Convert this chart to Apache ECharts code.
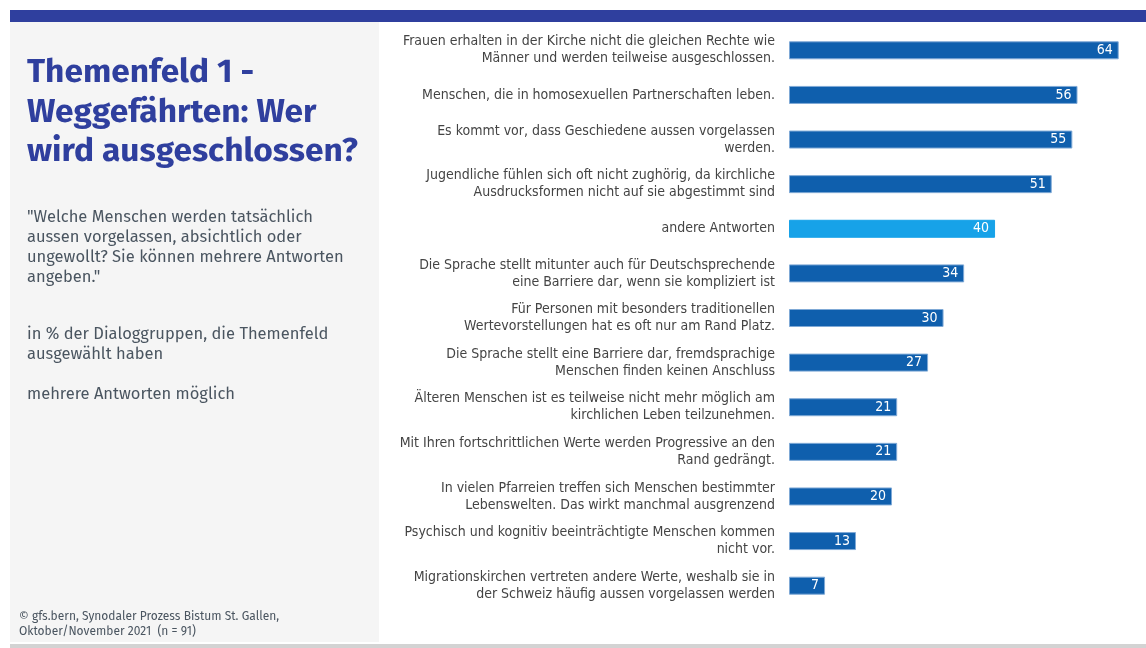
<!DOCTYPE html>
<html>
<head>
<meta charset="utf-8">
<script src="https://cdn.jsdelivr.net/npm/echarts@6/dist/echarts.min.js"></script>
<style>
  html, body { margin: 0; padding: 0; background: #fff; }
  #main { width: 1146px; height: 648px; }
</style>
</head>
<body>
<div id="main"></div>
<script>
const categories = [
  'Frauen erhalten in der Kirche nicht die gleichen Rechte wie\nMänner und werden teilweise ausgeschlossen.',
  'Menschen, die in homosexuellen Partnerschaften leben.',
  'Es kommt vor, dass Geschiedene aussen vorgelassen\nwerden.',
  'Jugendliche fühlen sich oft nicht zughörig, da kirchliche\nAusdrucksformen nicht auf sie abgestimmt sind',
  'andere Antworten',
  'Die Sprache stellt mitunter auch für Deutschsprechende\neine Barriere dar, wenn sie kompliziert ist',
  'Für Personen mit besonders traditionellen\nWertevorstellungen hat es oft nur am Rand Platz.',
  'Die Sprache stellt eine Barriere dar, fremdsprachige\nMenschen finden keinen Anschluss',
  'Älteren Menschen ist es teilweise nicht mehr möglich am\nkirchlichen Leben teilzunehmen.',
  'Mit Ihren fortschrittlichen Werte werden Progressive an den\nRand gedrängt.',
  'In vielen Pfarreien treffen sich Menschen bestimmter\nLebenswelten. Das wirkt manchmal ausgrenzend',
  'Psychisch und kognitiv beeinträchtigte Menschen kommen\nnicht vor.',
  'Migrationskirchen vertreten andere Werte, weshalb sie in\nder Schweiz häufig aussen vorgelassen werden'
];
const values = [64, 56, 55, 51, 40, 34, 30, 27, 21, 21, 20, 13, 7];
const highlighted = ['andere Antworten'];

const titleText = 'Themenfeld 1 -\nWeggefährten: Wer\nwird ausgeschlossen?';
const questionText = '"Welche Menschen werden tatsächlich\naussen vorgelassen, absichtlich oder\nungewollt? Sie können mehrere Antworten\nangeben."';
const baseText = 'in % der Dialoggruppen, die Themenfeld\nausgewählt haben';
const noteText = 'mehrere Antworten möglich';
const sourceText = '© gfs.bern, Synodaler Prozess Bistum St. Gallen,\nOktober/November 2021  (n = 91)';

const narrow = '"Liberation Sans Narrow", "DejaVu Sans Condensed", sans-serif';
const sans = '"Fira Sans", "Open Sans", "Noto Sans", sans-serif';

const chart = echarts.init(document.getElementById('main'), null, { renderer: 'canvas' });

const option = {
  backgroundColor: '#ffffff',
  animation: false,
  graphic: [
    { type: 'rect', shape: { x: 10, y: 10, width: 1136, height: 12 }, style: { fill: '#2f3f9e' }, silent: true },
    { type: 'rect', shape: { x: 10, y: 22, width: 369, height: 620 }, style: { fill: '#f5f5f5' }, silent: true },
    { type: 'rect', shape: { x: 10, y: 644, width: 1136, height: 4 }, style: { fill: '#d3d3d3' }, silent: true },
    {
      type: 'text', left: 27, top: 53,
      style: { text: titleText, fill: '#2f3f9e', font: 'bold 33.5px ' + sans, lineHeight: 39.5 }
    },
    {
      type: 'text', left: 27, top: 207,
      style: { text: questionText, fill: '#4a5560', font: '16.5px ' + sans, lineHeight: 20 }
    },
    {
      type: 'text', left: 27, top: 324,
      style: { text: baseText, fill: '#4a5560', font: '16.5px ' + sans, lineHeight: 20 }
    },
    {
      type: 'text', left: 27, top: 384,
      style: { text: noteText, fill: '#4a5560', font: '16.5px ' + sans, lineHeight: 20 }
    },
    {
      type: 'text', left: 19, top: 609,
      style: { text: sourceText, fill: '#4a5560', font: '12px ' + sans, lineHeight: 15 }
    }
  ],
  grid: { left: 789, top: 28, width: 340, height: 580, containLabel: false },
  xAxis: {
    type: 'value', min: 0, max: 66, show: false
  },
  yAxis: {
    type: 'category',
    data: categories,
    inverse: true,
    axisLine: { show: false },
    axisTick: { show: false },
    splitLine: { show: false },
    axisLabel: {
      margin: 14,
      align: 'right',
      color: '#444',
      fontFamily: narrow,
      fontSize: 14,
      lineHeight: 17
    }
  },
  series: [{
    type: 'bar',
    barWidth: 18,
    data: values.map((v, i) => ({
      value: v,
      itemStyle: {
        color: highlighted.includes(categories[i]) ? '#17a2e8' : '#0f5fad',
        borderColor: highlighted.includes(categories[i]) ? '#17a2e8' : '#7fa9d6',
        borderWidth: 1
      }
    })),
    label: {
      show: true,
      position: 'insideRight',
      distance: 6,
      color: '#ffffff',
      fontFamily: narrow,
      fontSize: 14
    }
  }]
};

chart.setOption(option);
</script>
</body>
</html>
